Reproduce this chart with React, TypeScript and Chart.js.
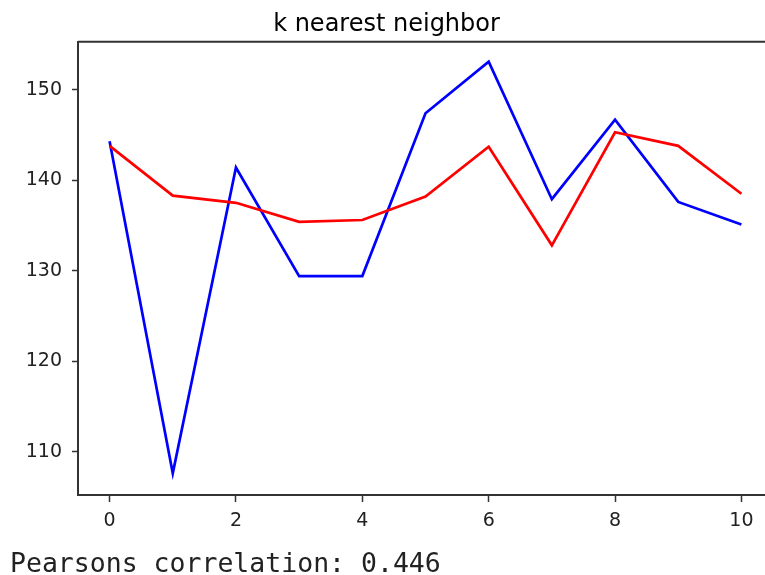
import React, { useEffect, useRef } from "react";
import { Chart, registerables } from "chart.js";

Chart.register(...registerables);

const xValues = [0, 1, 2, 3, 4, 5, 6, 7, 8, 9, 10];
const actualValues = [144.3, 107.6, 141.4, 129.4, 129.4, 147.4, 153.1, 137.9, 146.7, 137.6, 135.1];
const predictedValues = [143.8, 138.3, 137.5, 135.4, 135.6, 138.2, 143.7, 132.8, 145.3, 143.8, 138.5];
const xTickValues = [0, 2, 4, 6, 8, 10];
const yTickValues = [110, 120, 130, 140, 150];
const titleText = "k nearest neighbor";
const footerText = "Pearsons correlation: 0.446";

const CANVAS_W = 790;
const CANVAS_H = 575;

export default function App() {
  const ref = useRef<HTMLCanvasElement | null>(null);

  useEffect(() => {
    if (!ref.current) return;
    const toPts = (ys: number[]) => xValues.map((x, i) => ({ x, y: ys[i] }));
    const chart = new Chart(ref.current, {
      type: "line",
      data: {
        datasets: [
          {
            label: "actual",
            data: toPts(actualValues),
            borderColor: "#0000ff",
            borderWidth: 2.7,
            pointRadius: 0,
            tension: 0,
            fill: false,
            order: 1,
          },
          {
            label: "predicted",
            data: toPts(predictedValues),
            borderColor: "#ff0000",
            borderWidth: 2.7,
            pointRadius: 0,
            tension: 0,
            fill: false,
            order: 0,
          },
        ],
      },
      options: {
        responsive: false,
        animation: false,
        layout: { padding: { top: 1, right: CANVAS_W - 773, left: 0, bottom: 0 } },
        plugins: {
          legend: { display: false },
          tooltip: { enabled: false },
          title: {
            display: true,
            text: titleText,
            color: "#000000",
            font: { family: "'DejaVu Sans'", size: 24, weight: "normal", lineHeight: 1.2 },
            padding: { top: 9, bottom: 3 },
          },
        },
        scales: {
          x: {
            type: "linear",
            min: -0.5,
            max: 10.5,
            afterBuildTicks: (s: any) => {
              s.ticks = xTickValues.map((v) => ({ value: v }));
            },
            afterFit: (s: any) => {
              s.height = 80;
            },
            grid: { drawOnChartArea: false, drawTicks: true, tickLength: 7, color: "#333333", tickWidth: 1.5 },
            border: { display: true, color: "#333333", width: 2 },
            ticks: {
              color: "#222222",
              padding: 8,
              maxRotation: 0,
              font: { family: "'DejaVu Sans'", size: 19 },
            },
          },
          y: {
            type: "linear",
            min: 105.2,
            max: 155.3,
            afterBuildTicks: (s: any) => {
              s.ticks = yTickValues.map((v) => ({ value: v }));
            },
            afterFit: (s: any) => {
              s.width = 78;
            },
            grid: { drawOnChartArea: false, drawTicks: true, tickLength: 6, color: "#333333", tickWidth: 1.5 },
            border: { display: true, color: "#333333", width: 2 },
            ticks: {
              color: "#222222",
              padding: 10,
              font: { family: "'DejaVu Sans'", size: 19 },
            },
          },
        },
      },
      plugins: [
        {
          id: "frame",
          afterDraw(c: any) {
            const { ctx, chartArea } = c;
            ctx.save();
            ctx.strokeStyle = "#333333";
            ctx.lineWidth = 2;
            ctx.beginPath();
            ctx.moveTo(chartArea.left, chartArea.top);
            ctx.lineTo(chartArea.right, chartArea.top);
            ctx.lineTo(chartArea.right, chartArea.bottom);
            ctx.stroke();
            ctx.restore();
          },
        },
      ],
    });
    return () => chart.destroy();
  }, []);

  return (
    <div
      style={{
        position: "fixed",
        left: 0,
        top: 0,
        width: 765,
        height: 575,
        overflow: "hidden",
        background: "#ffffff",
      }}
    >
      <canvas
        ref={ref}
        width={CANVAS_W}
        height={CANVAS_H}
        style={{ position: "absolute", left: 0, top: 0, width: CANVAS_W, height: CANVAS_H }}
      />
      <div
        style={{
          position: "absolute",
          left: 10,
          top: 550,
          fontFamily: "'DejaVu Sans Mono', monospace",
          fontSize: 26.5,
          lineHeight: "26px",
          color: "#222222",
          whiteSpace: "pre",
        }}
      >
        {footerText}
      </div>
    </div>
  );
}
